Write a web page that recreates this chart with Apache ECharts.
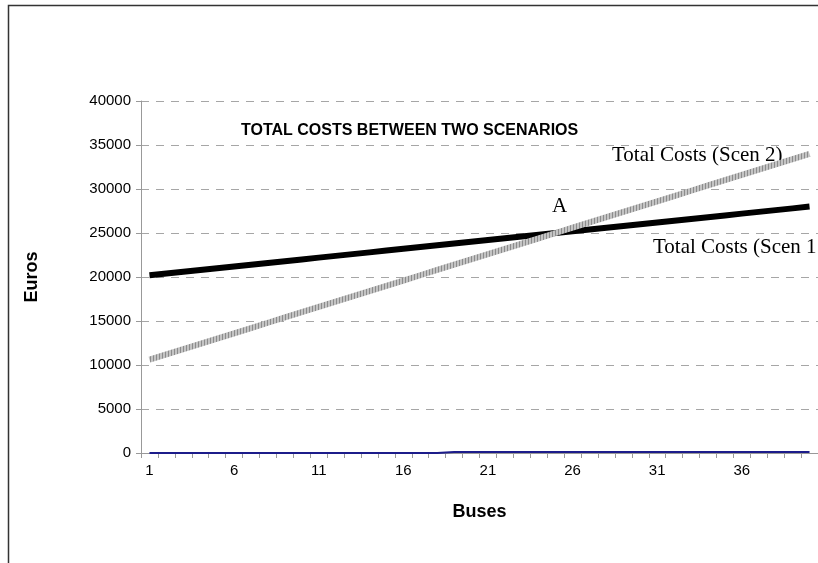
<!DOCTYPE html>
<html>
<head>
<meta charset="utf-8">
<script src="https://cdn.jsdelivr.net/npm/echarts@6/dist/echarts.min.js"></script>
<style>
html,body{margin:0;padding:0;background:#fff;}
#chart{width:818px;height:563px;}
</style>
</head>
<body>
<div id="chart"></div>
<script>
var categories = ['1','2','3','4','5','6','7','8','9','10','11','12','13','14','15','16','17','18','19','20','21','22','23','24','25','26','27','28','29','30','31','32','33','34','35','36','37','38','39','40'];
var scen1 = [20200,20400,20600,20800,21000,21200,21400,21600,21800,22000,22200,22400,22600,22800,23000,23200,23400,23600,23800,24000,24200,24400,24600,24800,25000,25200,25400,25600,25800,26000,26200,26400,26600,26800,27000,27200,27400,27600,27800,28000];
var scen2 = [10600,11200,11800,12400,13000,13600,14200,14800,15400,16000,16600,17200,17800,18400,19000,19600,20200,20800,21400,22000,22600,23200,23800,24400,25000,25600,26200,26800,27400,28000,28600,29200,29800,30400,31000,31600,32200,32800,33400,34000];
var baseSeries = [0,0,0,0,0,0,0,0,0,0,0,0,0,0,0,0,0,0,110,110,110,110,110,110,110,110,110,110,110,110,110,110,110,110,110,110,110,110,110,110];

var pc = document.createElement('canvas');
pc.width = 3; pc.height = 3;
var g = pc.getContext('2d');
g.fillStyle = '#c4c4c4'; g.fillRect(0,0,3,3);
g.fillStyle = '#8c8c8c'; g.fillRect(0,0,1,3);

var chart = echarts.init(document.getElementById('chart'), null, {renderer:'canvas'});
var sans = 'Liberation Sans, Arial, sans-serif';
var serif = 'Liberation Serif, Times New Roman, serif';
chart.setOption({
  animation:false,
  backgroundColor:'#fff',
  title:{
    text:'TOTAL COSTS BETWEEN TWO SCENARIOS',
    left:236, top:118,
    textStyle:{fontFamily:sans, fontSize:16, fontWeight:'bold', color:'#000'}
  },
  grid:{left:141, top:101, width:678, bottom:110, containLabel:false},
  xAxis:{
    type:'category', data:categories, boundaryGap:true,
    name:'Buses', nameLocation:'middle', nameGap:50,
    nameTextStyle:{fontFamily:sans, fontSize:18, fontWeight:'bold', color:'#000'},
    axisLine:{show:true, lineStyle:{color:'#999', width:1}},
    axisTick:{show:true, interval:0, length:5, lineStyle:{color:'#999'}},
    axisLabel:{interval:4, fontFamily:sans, fontSize:15, color:'#000', margin:10},
    splitLine:{show:false}
  },
  yAxis:{
    type:'value', min:0, max:40000, interval:5000,
    name:'Euros', nameLocation:'middle', nameGap:100, nameRotate:90,
    nameTextStyle:{fontFamily:sans, fontSize:18, fontWeight:'bold', color:'#000'},
    axisLine:{show:true, lineStyle:{color:'#999', width:1}},
    axisTick:{show:true, length:5, lineStyle:{color:'#999'}},
    axisLabel:{fontFamily:sans, fontSize:15, color:'#000', margin:10, formatter:function(v){return String(v);}},
    splitLine:{show:true, lineStyle:{color:'#a6a6a6', type:[8,7], width:1}}
  },
  series:[
    {name:'Base', type:'line', data:baseSeries, showSymbol:false, symbol:'none', z:2,
     lineStyle:{color:'#1c1c8a', width:2}},
    {name:'Total Costs (Scen 1)', type:'line', data:scen1, showSymbol:false, symbol:'none', z:3,
     lineStyle:{color:'#000', width:6}},
    {name:'Total Costs (Scen 2)', type:'line', data:scen2, showSymbol:false, symbol:'none', z:4,
     lineStyle:{color:{image:pc, repeat:'repeat'}, width:6}}
  ],
  graphic:[
    {type:'rect', shape:{x:8.5, y:5.5, width:830, height:580}, style:{fill:'none', stroke:'#333', lineWidth:1.5}, silent:true},
    {type:'text', left:612, top:145, style:{text:'Total Costs (Scen 2)', font:'21px '+serif, fill:'#000'}},
    {type:'text', left:552, top:196, style:{text:'A', font:'21px '+serif, fill:'#000'}},
    {type:'text', left:653, top:237, style:{text:'Total Costs (Scen 1', font:'21px '+serif, fill:'#000'}}
  ]
});
</script>
</body>
</html>
